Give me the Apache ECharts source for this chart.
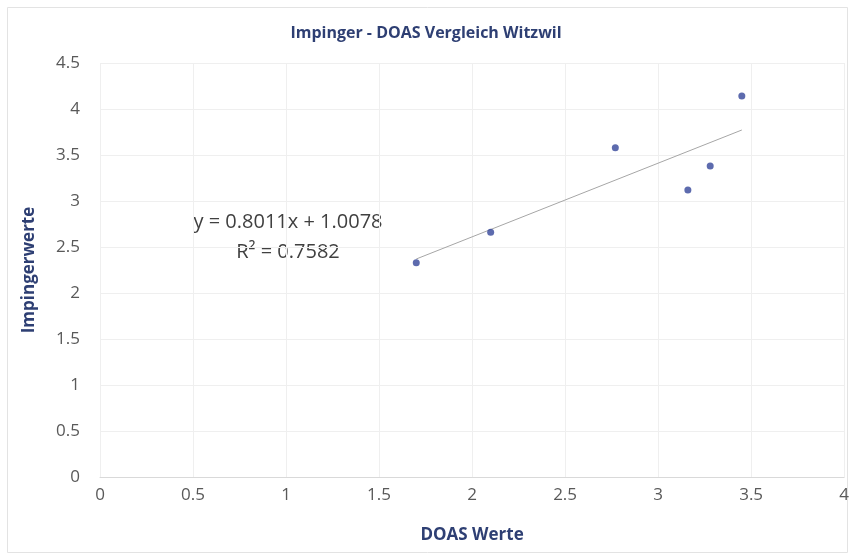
<!DOCTYPE html>
<html>
<head>
  <meta charset="utf-8">
  <title>Impinger - DOAS Vergleich Witzwil</title>
  <script src="https://cdn.jsdelivr.net/npm/echarts@6/dist/echarts.min.js"></script>
  <style>
    html, body { margin: 0; padding: 0; background: #fff; }
  </style>
</head>
<body>
  <div id="main" style="width: 852px;height:554px;"></div>

  <script>
    // Messwerte
    const doasWerte = [1.70, 2.10, 2.77, 3.16, 3.28, 3.45];
    const impingerWerte = [2.33, 2.66, 3.58, 3.12, 3.38, 4.14];
    // lineare Trendlinie (aus Excel)
    const slope = 0.8011;
    const intercept = 1.0078;
    const trendX = [Math.min(...doasWerte), Math.max(...doasWerte)];

    const punkte = doasWerte.map((x, i) => [x, impingerWerte[i]]);
    const trend = trendX.map(x => [x, slope * x + intercept]);

    const chart = echarts.init(document.getElementById("main"));
    const font = "'Open Sans', 'Liberation Sans', sans-serif";
    const option = {
      animation: false,
      textStyle: { fontFamily: font },
      title: {
        text: "Impinger - DOAS Vergleich Witzwil",
        left: "center",
        top: 20,
        textStyle: { fontSize: 16, fontWeight: "bold", color: "#2E3F73", fontFamily: font }
      },
      grid: { left: 100, right: 6, top: 63, bottom: 77 },
      xAxis: {
        type: "value",
        min: 0, max: 4, interval: 0.5,
        name: "DOAS Werte",
        nameLocation: "middle",
        nameGap: 50,
        nameTextStyle: { fontSize: 17, fontWeight: "bold", color: "#2E3F73" },
        axisLine: { lineStyle: { color: "#d9d9d9" } },
        axisTick: { show: false },
        axisLabel: { fontSize: 17, color: "#595959", margin: 10 },
        splitLine: { lineStyle: { color: "#efefef" } }
      },
      yAxis: {
        type: "value",
        min: 0, max: 4.5, interval: 0.5,
        name: "Impingerwerte",
        nameLocation: "middle",
        nameGap: 62,
        nameTextStyle: { fontSize: 17, fontWeight: "bold", color: "#2E3F73" },
        axisLine: { show: false },
        axisTick: { show: false },
        axisLabel: { fontSize: 17, color: "#595959", margin: 20 },
        splitLine: { lineStyle: { color: "#efefef" } }
      },
      graphic: [
        {
          type: "rect",
          shape: { x: 7.5, y: 7.5, width: 840, height: 545 },
          style: { fill: "none", stroke: "#e3e3e3", lineWidth: 1 },
          silent: true
        },
        {
          type: "rect",
          shape: { x: 186, y: 206, width: 204, height: 62 },
          style: { fill: "#ffffff" },
          silent: true
        },
        {
          type: "text",
          x: 288, y: 222,
          style: { text: "y = 0.8011x + 1.0078", fontSize: 20, fill: "#404040", fontFamily: font,
                   align: "center", verticalAlign: "middle" }
        },
        {
          type: "text",
          x: 288, y: 252,
          style: { text: "R² = 0.7582", fontSize: 20, fill: "#404040", fontFamily: font,
                   align: "center", verticalAlign: "middle" }
        }
      ],
      series: [
        {
          type: "line",
          data: trend,
          symbol: "none",
          lineStyle: { color: "#a6a6a6", width: 1 },
          z: 1
        },
        {
          type: "scatter",
          data: punkte,
          symbolSize: 7,
          itemStyle: { color: "#34469A" },
          z: 2
        }
      ]
    };
    chart.setOption(option);
  </script>
</body>
</html>
